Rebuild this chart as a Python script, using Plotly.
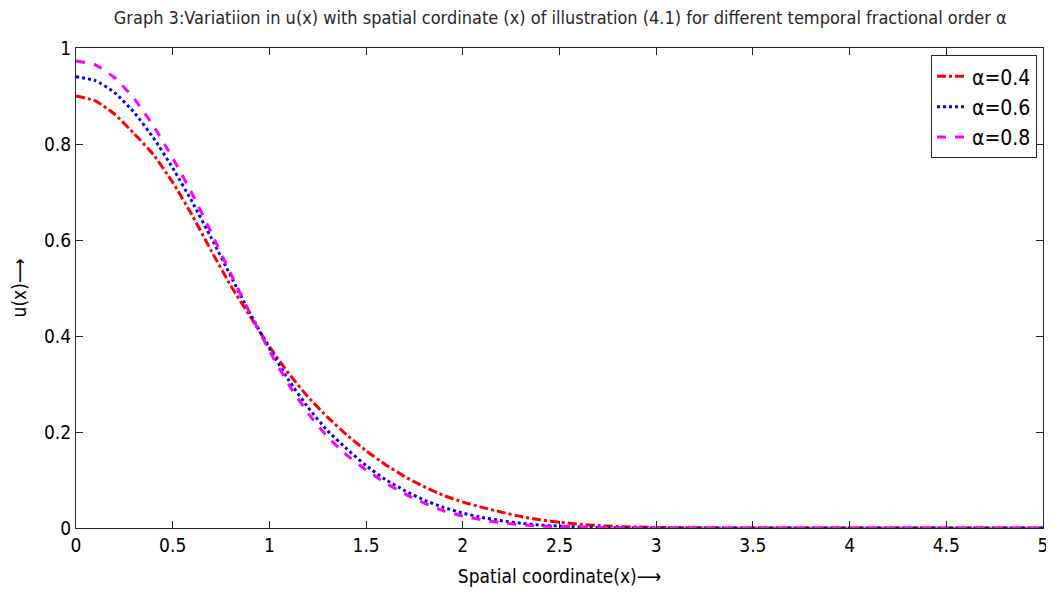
import plotly.graph_objects as go

x_vals = [0.0, 0.1, 0.2, 0.3, 0.4, 0.5, 0.6, 0.7, 0.8, 0.9, 1.0,
          1.1, 1.2, 1.3, 1.4, 1.5, 1.6, 1.7, 1.8, 1.9, 2.0,
          2.1, 2.2, 2.3, 2.4, 2.5, 2.6, 2.7, 2.8, 2.9, 3.0,
          3.5, 4.0, 4.5, 5.0]

u_alpha_04 = [0.900, 0.890, 0.862, 0.822, 0.778, 0.720, 0.652, 0.577, 0.505, 0.441, 0.378,
              0.322, 0.273, 0.231, 0.194, 0.161, 0.132, 0.107, 0.086, 0.068, 0.054,
              0.043, 0.033, 0.024, 0.017, 0.012, 0.008, 0.005, 0.003, 0.002, 0.001,
              0.0, 0.0, 0.0, 0.0]

u_alpha_06 = [0.940, 0.932, 0.907, 0.866, 0.813, 0.750, 0.680, 0.604, 0.525, 0.447, 0.374,
              0.308, 0.251, 0.203, 0.165, 0.130, 0.101, 0.078, 0.058, 0.043, 0.031,
              0.022, 0.015, 0.010, 0.006, 0.004, 0.002, 0.001, 0.0005, 0.0, 0.0,
              0.0, 0.0, 0.0, 0.0]

u_alpha_08 = [0.973, 0.965, 0.938, 0.895, 0.838, 0.771, 0.697, 0.615, 0.530, 0.447, 0.369,
              0.299, 0.239, 0.190, 0.152, 0.121, 0.094, 0.071, 0.052, 0.036, 0.025,
              0.017, 0.011, 0.007, 0.004, 0.003, 0.002, 0.001, 0.0, 0.0, 0.0,
              0.0, 0.0, 0.0, 0.0]

series_names = ["α=0.4", "α=0.6", "α=0.8"]
x_ticks = [0, 0.5, 1, 1.5, 2, 2.5, 3, 3.5, 4, 4.5, 5]
x_tick_labels = ["0", "0.5", "1", "1.5", "2", "2.5", "3", "3.5", "4", "4.5", "5"]
y_ticks = [0, 0.2, 0.4, 0.6, 0.8, 1]
y_tick_labels = ["0", "0.2", "0.4", "0.6", "0.8", "1"]

FONT = "DejaVu Sans Condensed, Liberation Sans Narrow, sans-serif"

fig = go.Figure()
styles = [("#ff0000", "dashdot"), ("#0000ff", "dot"), ("#ff00ff", "dash")]
for name, yv, (col, dash) in zip(series_names, [u_alpha_04, u_alpha_06, u_alpha_08], styles):
    fig.add_trace(go.Scatter(x=x_vals, y=yv, mode="lines", name=name,
                             line=dict(color=col, dash=dash, width=3, shape="spline", smoothing=0.5)))

axis_common = dict(showline=True, linecolor="#262626", linewidth=1, mirror="ticks",
                   ticks="inside", ticklen=7, tickcolor="#262626", showgrid=False,
                   zeroline=False, automargin=False,
                   tickfont=dict(family=FONT, size=19, color="#000000"))

# page body has an 8px margin, so the figure is sized/offset to compensate
fig.update_layout(
    width=1046, height=584,
    margin=dict(l=68, r=11, t=40, b=64),
    paper_bgcolor="white", plot_bgcolor="white",
    title=dict(text="Graph 3:Variatiion in u(x) with spatial cordinate (x) of illustration (4.1) for different temporal fractional order α",
               x=0.528, xanchor="center", y=0.983, yanchor="middle",
               font=dict(family=FONT, size=18, color="#262626")),
    xaxis=dict(range=[0, 5], tickvals=x_ticks, ticktext=x_tick_labels,
               title=dict(text="Spatial coordinate(x)⟶", font=dict(family=FONT, size=19, color="#000000"),
                          standoff=14),
               **axis_common),
    yaxis=dict(range=[0, 1], tickvals=y_ticks, ticktext=y_tick_labels,
               title=dict(text="u(x)⟶", font=dict(family=FONT, size=19, color="#000000"), standoff=14),
               **axis_common),
    legend=dict(x=0.9938, xanchor="right", y=0.985, yanchor="top",
                bgcolor="white", bordercolor="#262626", borderwidth=1,
                font=dict(family=FONT, size=21, color="#000000"),
                itemwidth=30, tracegroupgap=0),
    showlegend=True,
)

fig.write_html("out.html")
